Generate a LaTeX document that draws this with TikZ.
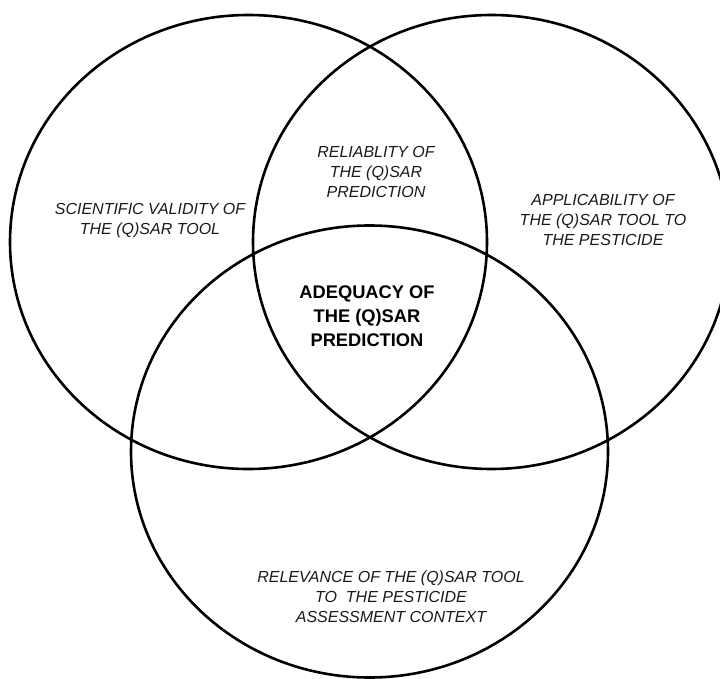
\documentclass[tikz,border=0pt]{standalone}
\usepackage{fontspec}
\setmainfont{Liberation Sans}
\usepackage{tikz}
\definecolor{vennline}{HTML}{000000}
\definecolor{venntext}{HTML}{1A1A1A}

\begin{document}
\begin{tikzpicture}[x=1pt, y=-1pt,
    ring/.style={draw=vennline, line width=2.6pt},
    area/.style={align=center, inner sep=0pt, text=venntext,
      font=\fontsize{16}{20}\selectfont\itshape},
    core/.style={align=center, inner sep=0pt, text=black,
      font=\fontsize{18.3}{24}\selectfont\bfseries}]
    \useasboundingbox (0,0) rectangle (720,679);
    \clip (0,0) rectangle (720,679);
    % the three sets
    \draw[ring] (248.5,242) ellipse [x radius=238.5pt, y radius=227pt];
    \draw[ring] (491.5,242) ellipse [x radius=238.5pt, y radius=227pt];
    \draw[ring] (369.5,451.5) ellipse [x radius=238.5pt, y radius=226pt];
    % labels
    \node[area] (validity) at (150,221) {SCIENTIFIC VALIDITY OF\\THE (Q)SAR TOOL};
    \node[area] (reliability) at (376,172) {RELIABLITY OF\\THE (Q)SAR\\PREDICTION};
    \node[area] (applicability) at (603,220) {APPLICABILITY OF\\THE (Q)SAR TOOL TO\\THE PESTICIDE};
    \node[core] (adequacy) at (367,316) {ADEQUACY OF\\THE (Q)SAR\\PREDICTION};
    \node[area] (relevance) at (391,597) {RELEVANCE OF THE (Q)SAR TOOL\\TO\ \ THE PESTICIDE\\ASSESSMENT CONTEXT};
  \end{tikzpicture}
\end{document}
